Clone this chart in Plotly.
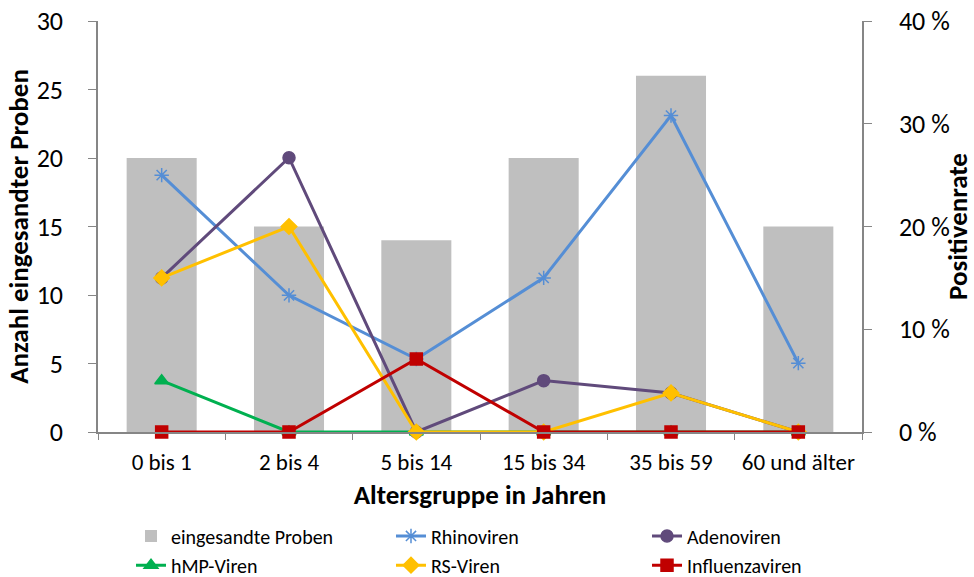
import plotly.graph_objects as go

# Altersgruppen und Werte
altersgruppen = ["0 bis 1", "2 bis 4", "5 bis 14", "15 bis 34", "35 bis 59", "60 und älter"]
proben = [20, 15, 14, 20, 26, 15]

# Positivenrate in %
rhinoviren = [25.0, 13.3, 7.1, 15.0, 30.8, 6.7]
adenoviren = [15.0, 26.7, 0.0, 5.0, 3.8, 0.0]
hmp_viren = [5.0, 0.0, 0.0, 0.0, 0.0, 0.0]
rs_viren = [15.0, 20.0, 0.0, 0.0, 3.8, 0.0]
influenzaviren = [0.0, 0.0, 7.1, 0.0, 0.0, 0.0]

FONT = "Carlito, Calibri, Lato, sans-serif"
AXIS_GREY = "#868686"

fig = go.Figure()

fig.add_trace(go.Bar(
    x=altersgruppen, y=proben, name="eingesandte Proben",
    marker=dict(color="#BFBFBF", line=dict(width=0)),
    width=0.55, legend="legend",
))


def line_trace(y, name, color, symbol, size, legend):
    return go.Scatter(
        x=altersgruppen, y=y, name=name, yaxis="y2",
        mode="lines+markers", cliponaxis=False,
        line=dict(color=color, width=3),
        marker=dict(symbol=symbol, size=size, color=color,
                    line=dict(color=color, width=1.5)),
        legend=legend,
    )


fig.add_trace(line_trace(rhinoviren, "Rhinoviren", "#558ED5", "asterisk-open", 12, "legend2"))
fig.add_trace(line_trace(adenoviren, "Adenoviren", "#604A7B", "circle", 12, "legend3"))
fig.add_trace(line_trace(hmp_viren, "hMP-Viren", "#00B050", "triangle-up", 12, "legend4"))
fig.add_trace(line_trace(rs_viren, "RS-Viren", "#FFC000", "diamond", 12, "legend5"))
fig.add_trace(line_trace(influenzaviren, "Influenzaviren", "#C00000", "square", 12, "legend6"))

# one legend per entry -> 3 columns x 2 rows like the original
legend_style = dict(
    xanchor="left", yanchor="middle",
    font=dict(family=FONT, size=20, color="#000000"),
    bgcolor="rgba(0,0,0,0)", itemwidth=30,
)
cols = [0.0432, 0.3835, 0.7186]
rows = [-0.253, -0.324]

fig.update_layout(
    width=974, height=577,
    margin=dict(l=98, r=112, t=21, b=145, autoexpand=False),
    paper_bgcolor="white", plot_bgcolor="white",
    font=dict(family=FONT, color="#000000"),
    showlegend=True,
    xaxis=dict(
        type="category", automargin=False,
        tickson="boundaries", ticks="outside", ticklen=6, tickcolor=AXIS_GREY,
        showline=True, linecolor=AXIS_GREY, linewidth=1.5,
        showgrid=False, ticklabelstandoff=9,
        tickfont=dict(family=FONT, size=23),
        title=dict(text="<b>Altersgruppe in Jahren</b>", font=dict(family=FONT, size=27), standoff=10),
    ),
    yaxis=dict(
        range=[0, 30], dtick=5, automargin=False,
        ticks="outside", ticklen=8, tickcolor=AXIS_GREY,
        showline=True, linecolor=AXIS_GREY, linewidth=1.5,
        showgrid=False, zeroline=False, ticklabelstandoff=20,
        ticklabeloverflow="allow",
        tickfont=dict(family=FONT, size=26),
        title=dict(text="<b>Anzahl eingesandter Proben</b>", font=dict(family=FONT, size=27), standoff=0),
    ),
    yaxis2=dict(
        range=[0, 40], dtick=10, ticksuffix=" %", automargin=False,
        overlaying="y", side="right",
        ticks="outside", ticklen=8, tickcolor=AXIS_GREY,
        showline=True, linecolor=AXIS_GREY, linewidth=1.5,
        showgrid=False, zeroline=False, ticklabelstandoff=22,
        ticklabeloverflow="allow",
        tickfont=dict(family=FONT, size=26),
        title=dict(text="<b>Positivenrate</b>", font=dict(family=FONT, size=27), standoff=21),
    ),
    legend=dict(x=cols[0], y=rows[0], **legend_style),
    legend2=dict(x=cols[1], y=rows[0], **legend_style),
    legend3=dict(x=cols[2], y=rows[0], **legend_style),
    legend4=dict(x=cols[0], y=rows[1], **legend_style),
    legend5=dict(x=cols[1], y=rows[1], **legend_style),
    legend6=dict(x=cols[2], y=rows[1], **legend_style),
)

# drop the default 8 px page margin so the figure fills the window
fig.write_html("out.html", config={"displayModeBar": False},
               post_script="document.body.style.margin='0';")
